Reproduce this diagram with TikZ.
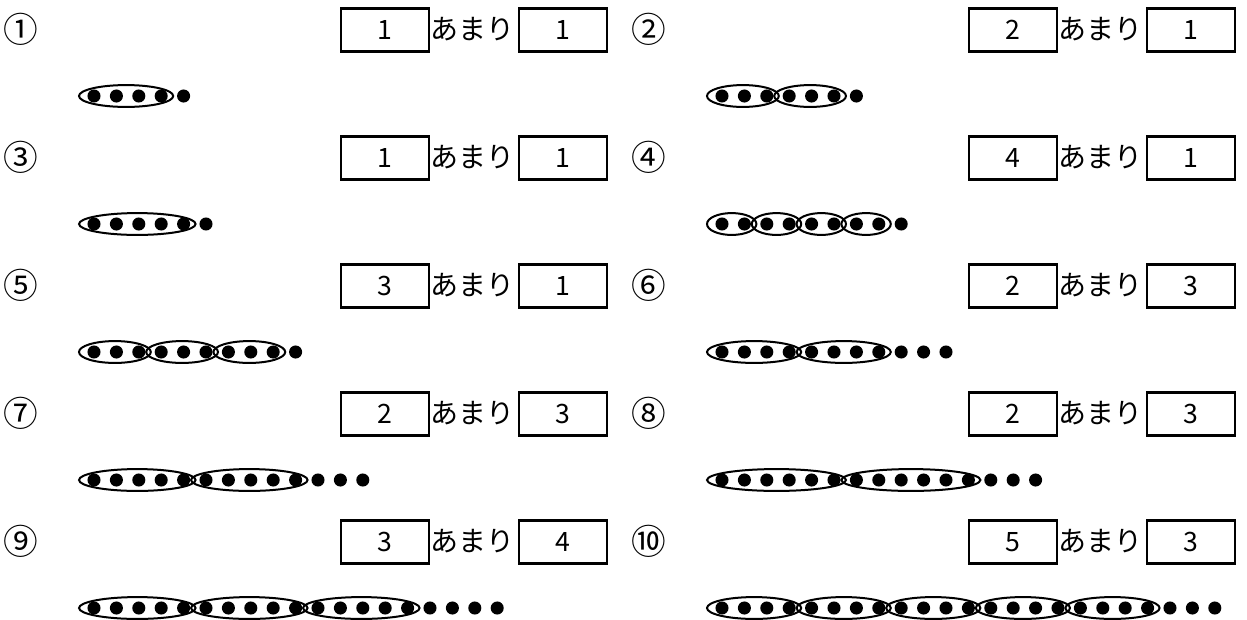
\documentclass[tikz,border=0pt]{standalone}
\usepackage{fontspec}
\setmainfont{Noto Sans CJK JP}
\usepackage{tikz}
\usetikzlibrary{positioning}

\begin{document}
\begin{tikzpicture}[
    x=0.75pt, y=-0.75pt,
    numlab/.style={font=\fontsize{26}{30}\selectfont, inner sep=0pt},
    ansbox/.style={rectangle, draw, line width=1.9pt, minimum width=66pt, minimum height=32pt, inner sep=0pt, font=\fontsize{20}{24}\selectfont},
    word/.style={font=\fontsize{21}{24}\selectfont, inner sep=0pt},
    ring/.style={line width=1.5pt},
    bead/.style={fill=black}
]
    \useasboundingbox (0,0) rectangle (1247,619);

    % Problems: number / column / row / label / groups / group size / remainder
    \foreach \i/\c/\r/\lab/\g/\n/\m in {
        1/0/0/①/1/4/1, 2/1/0/②/2/3/1,
        3/0/1/③/1/5/1, 4/1/1/④/4/2/1,
        5/0/2/⑤/3/3/1, 6/1/2/⑥/2/4/3,
        7/0/3/⑦/2/5/3, 8/1/3/⑧/2/6/3,
        9/0/4/⑨/3/5/4, 10/1/4/⑩/5/4/3}{
        \pgfmathsetmacro\xo{628*\c}
        \pgfmathsetmacro\yo{128*\r}

        % Label line
        \node[numlab] (num\i) at ({\xo+21},{\yo+29}) {\lab};
        \node[ansbox] (q\i) at ({\xo+385},{\yo+30}) {\g};
        \node[word] (am\i) at ({\xo+472},{\yo+29}) {あまり};
        \node[ansbox] (r\i) at ({\xo+563},{\yo+30}) {\m};

        % Groups
        \foreach \k in {1,...,\g}{
            \pgfmathsetmacro\xf{\xo+94+22.4*(\k-1)*\n}
            \pgfmathsetmacro\hw{11.2*(\n-1)+13.5}
            \draw[ring] ({\xf+11.2*(\n-1)-1.5},{\yo+96}) ellipse [x radius=\hw*0.75pt, y radius=8.2pt];
        }

        % Dots
        \pgfmathtruncatemacro\tot{\g*\n+\m}
        \foreach \j in {1,...,\tot}
            \fill[bead] ({\xo+94+22.4*(\j-1)},{\yo+96}) circle [radius=4.9pt];
    }
\end{tikzpicture}
\end{document}
